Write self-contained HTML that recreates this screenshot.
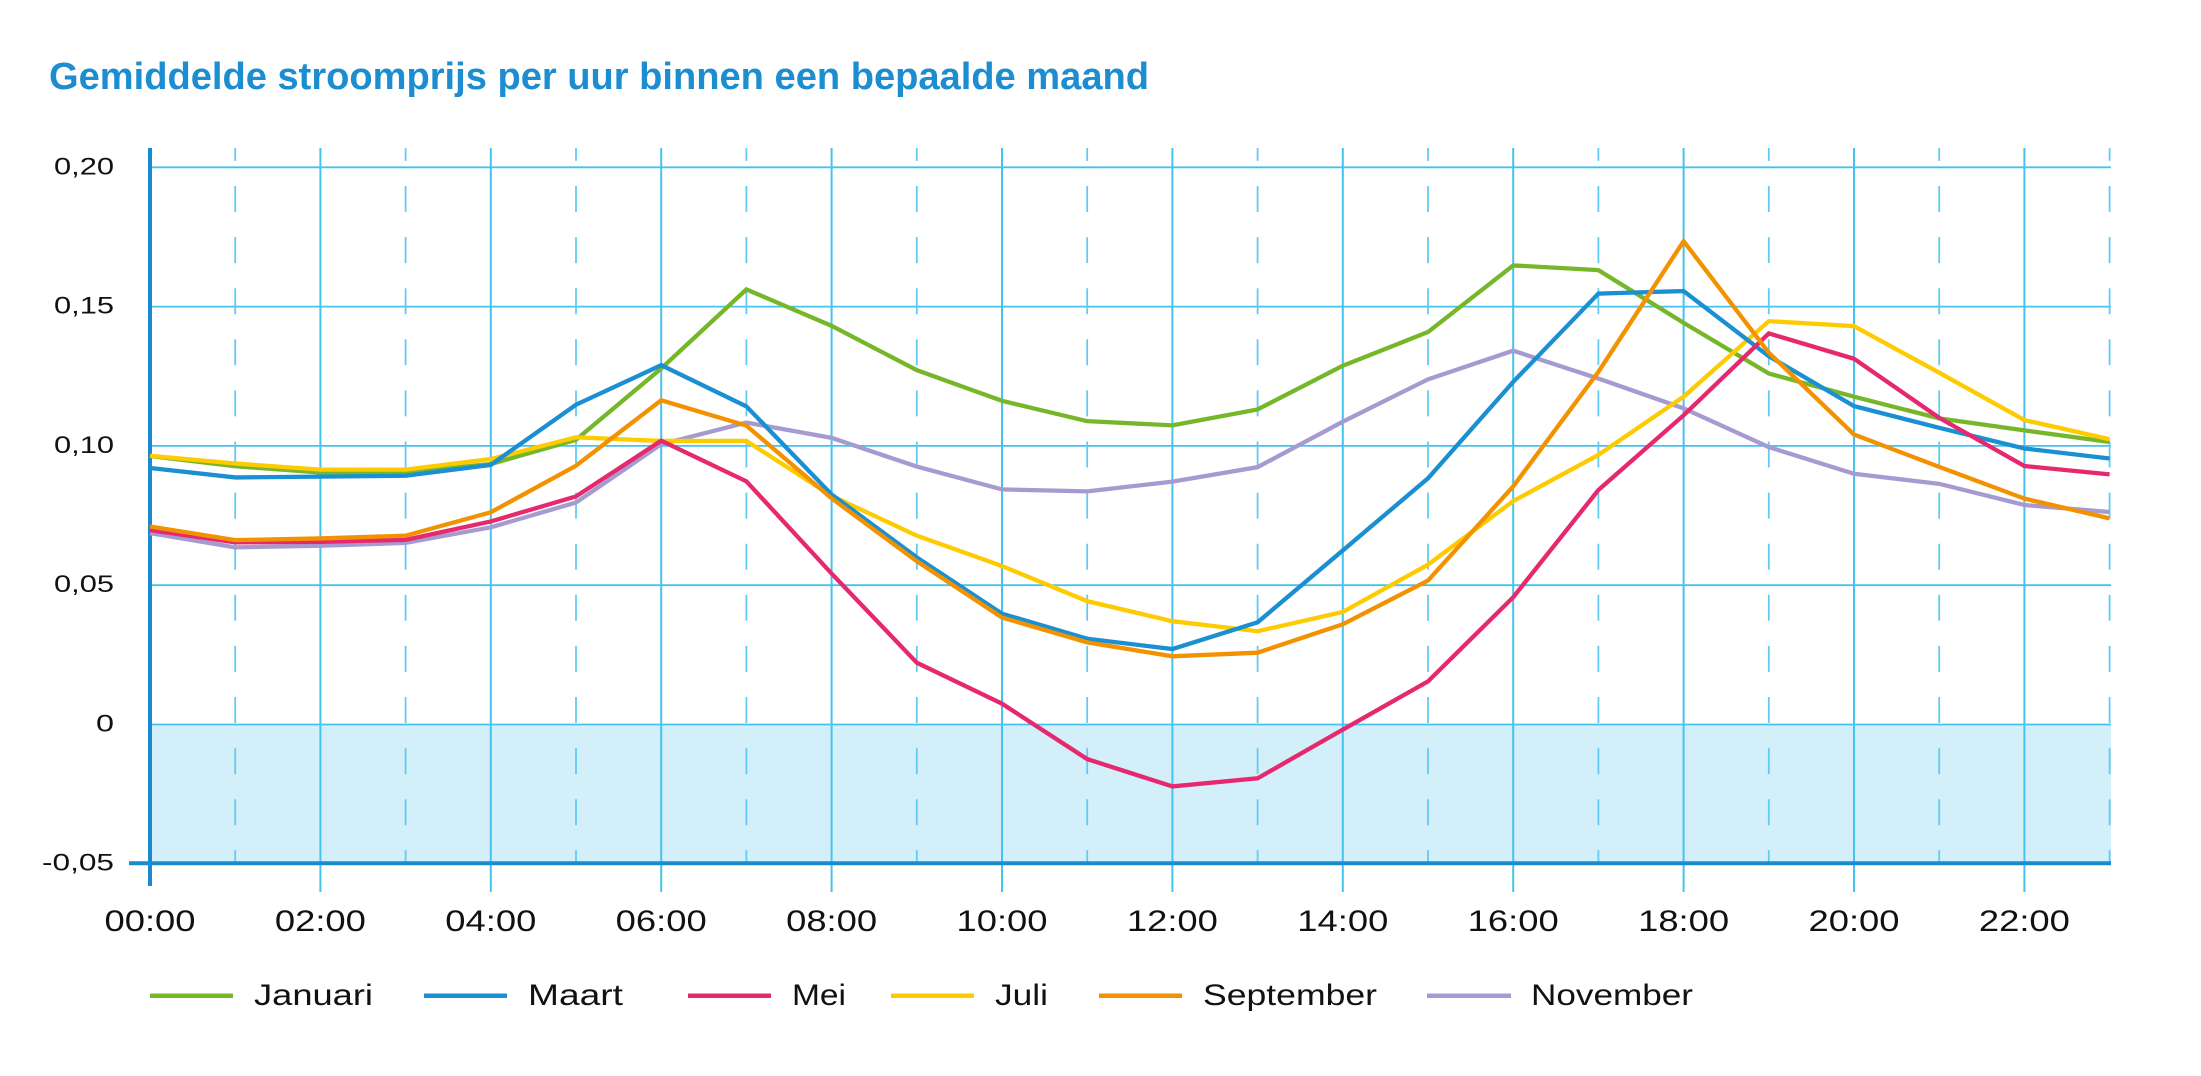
<!DOCTYPE html>
<html>
<head>
<meta charset="utf-8">
<style>
  html, body { margin: 0; padding: 0; background: #ffffff; }
  body { width: 2201px; height: 1076px; overflow: hidden; }
  svg { display: block; }
  text { font-family: "Liberation Sans", "DejaVu Sans", sans-serif; }
</style>
</head>
<body>
<svg width="2201" height="1076" viewBox="0 0 2201 1076" xmlns="http://www.w3.org/2000/svg">
  <rect x="0" y="0" width="2201" height="1076" fill="#ffffff"/>

  <!-- Title -->
  <text x="49" y="89" font-size="38" font-weight="bold" fill="#1b8dd0" textLength="1100" lengthAdjust="spacingAndGlyphs">Gemiddelde stroomprijs per uur binnen een bepaalde maand</text>

  <!-- negative area fill -->
  <rect x="150" y="724" width="1961" height="139" fill="#d3eff9"/>

  <!-- horizontal gridlines -->
  <g stroke="#45c2f1" stroke-width="1.8">
    <line x1="150" y1="167.3" x2="2111" y2="167.3"/>
    <line x1="150" y1="306.6" x2="2111" y2="306.6"/>
    <line x1="150" y1="445.9" x2="2111" y2="445.9"/>
    <line x1="150" y1="585.2" x2="2111" y2="585.2"/>
    <line x1="150" y1="724.5" x2="2111" y2="724.5"/>
  </g>

  <!-- vertical solid gridlines (even hours) -->
  <g stroke="#45c2f1" stroke-width="2">
    <line x1="320.4" y1="148" x2="320.4" y2="892"/>
    <line x1="490.8" y1="148" x2="490.8" y2="892"/>
    <line x1="661.2" y1="148" x2="661.2" y2="892"/>
    <line x1="831.6" y1="148" x2="831.6" y2="892"/>
    <line x1="1002" y1="148" x2="1002" y2="892"/>
    <line x1="1172.4" y1="148" x2="1172.4" y2="892"/>
    <line x1="1342.8" y1="148" x2="1342.8" y2="892"/>
    <line x1="1513.2" y1="148" x2="1513.2" y2="892"/>
    <line x1="1683.6" y1="148" x2="1683.6" y2="892"/>
    <line x1="1854" y1="148" x2="1854" y2="892"/>
    <line x1="2024.4" y1="148" x2="2024.4" y2="892"/>
  </g>

  <!-- vertical dashed gridlines (odd hours) -->
  <g stroke="#62cbf3" stroke-width="1.8" stroke-dasharray="26 25.1" stroke-dashoffset="13.1">
    <line x1="235.2" y1="148" x2="235.2" y2="863"/>
    <line x1="405.6" y1="148" x2="405.6" y2="863"/>
    <line x1="576" y1="148" x2="576" y2="863"/>
    <line x1="746.4" y1="148" x2="746.4" y2="863"/>
    <line x1="916.8" y1="148" x2="916.8" y2="863"/>
    <line x1="1087.2" y1="148" x2="1087.2" y2="863"/>
    <line x1="1257.6" y1="148" x2="1257.6" y2="863"/>
    <line x1="1428" y1="148" x2="1428" y2="863"/>
    <line x1="1598.4" y1="148" x2="1598.4" y2="863"/>
    <line x1="1768.8" y1="148" x2="1768.8" y2="863"/>
    <line x1="1939.2" y1="148" x2="1939.2" y2="863"/>
    <line x1="2109.6" y1="148" x2="2109.6" y2="863"/>
  </g>

  <!-- axes -->
  <line x1="150" y1="148" x2="150" y2="886" stroke="#1a8bcf" stroke-width="4"/>
  <line x1="129" y1="863.3" x2="2111" y2="863.3" stroke="#1a8bcf" stroke-width="4"/>

  <!-- y labels -->
  <g font-size="24" fill="#111111" text-anchor="end">
    <text x="114" y="174.3" textLength="60" lengthAdjust="spacingAndGlyphs">0,20</text>
    <text x="114" y="313.6" textLength="60" lengthAdjust="spacingAndGlyphs">0,15</text>
    <text x="114" y="452.9" textLength="60" lengthAdjust="spacingAndGlyphs">0,10</text>
    <text x="114" y="592.2" textLength="60" lengthAdjust="spacingAndGlyphs">0,05</text>
    <text x="114" y="731.5" textLength="18" lengthAdjust="spacingAndGlyphs">0</text>
    <text x="114" y="870.5" textLength="72" lengthAdjust="spacingAndGlyphs">-0,05</text>
  </g>

  <!-- x labels -->
  <g font-size="30" fill="#111111" text-anchor="middle">
    <text x="150" y="931" textLength="91" lengthAdjust="spacingAndGlyphs">00:00</text>
    <text x="320.4" y="931" textLength="91" lengthAdjust="spacingAndGlyphs">02:00</text>
    <text x="490.8" y="931" textLength="91" lengthAdjust="spacingAndGlyphs">04:00</text>
    <text x="661.2" y="931" textLength="91" lengthAdjust="spacingAndGlyphs">06:00</text>
    <text x="831.6" y="931" textLength="91" lengthAdjust="spacingAndGlyphs">08:00</text>
    <text x="1002" y="931" textLength="91" lengthAdjust="spacingAndGlyphs">10:00</text>
    <text x="1172.4" y="931" textLength="91" lengthAdjust="spacingAndGlyphs">12:00</text>
    <text x="1342.8" y="931" textLength="91" lengthAdjust="spacingAndGlyphs">14:00</text>
    <text x="1513.2" y="931" textLength="91" lengthAdjust="spacingAndGlyphs">16:00</text>
    <text x="1683.6" y="931" textLength="91" lengthAdjust="spacingAndGlyphs">18:00</text>
    <text x="1854" y="931" textLength="91" lengthAdjust="spacingAndGlyphs">20:00</text>
    <text x="2024.4" y="931" textLength="91" lengthAdjust="spacingAndGlyphs">22:00</text>
  </g>

  <!-- data series: x = hour, y = value -->
  <g transform="translate(150,724) scale(85.2,-2786)" fill="none" stroke-width="4.3" stroke-linejoin="miter">
    <!-- November -->
    <polyline vector-effect="non-scaling-stroke" stroke="#a59bd0" points="0,0.0685 1,0.0634 2,0.064 3,0.065 4,0.0706 5,0.0795 6,0.1004 7,0.1082 8,0.1027 9,0.0924 10,0.0842 11,0.0835 12,0.087 13,0.0922 14,0.1085 15,0.1237 16,0.134 17,0.124 18,0.1133 19,0.0994 20,0.0898 21,0.0862 22,0.0786 23,0.0761"/>
    <!-- Januari -->
    <polyline vector-effect="non-scaling-stroke" stroke="#76b72a" points="0,0.0962 1,0.0925 2,0.0903 3,0.0903 4,0.0933 5,0.102 6,0.1276 7,0.156 8,0.1429 9,0.127 10,0.116 11,0.1087 12,0.1072 13,0.1129 14,0.1286 15,0.1407 16,0.1646 17,0.1629 18,0.144 19,0.1258 20,0.1175 21,0.1097 22,0.1054 23,0.1012"/>
    <!-- Juli -->
    <polyline vector-effect="non-scaling-stroke" stroke="#fdcb00" points="0,0.0963 1,0.0935 2,0.0913 3,0.0913 4,0.0951 5,0.1029 6,0.1016 7,0.1016 8,0.0819 9,0.0676 10,0.0567 11,0.0441 12,0.0369 13,0.0333 14,0.0402 15,0.0572 16,0.08 17,0.0966 18,0.1175 19,0.1446 20,0.1428 21,0.1261 22,0.1091 23,0.1022"/>
    <!-- Maart -->
    <polyline vector-effect="non-scaling-stroke" stroke="#1a8fd2" points="0,0.0919 1,0.0885 2,0.0888 3,0.0891 4,0.093 5,0.1146 6,0.1288 7,0.114 8,0.0824 9,0.0598 10,0.0396 11,0.0306 12,0.0269 13,0.0365 14,0.0623 15,0.0882 16,0.1228 17,0.1545 18,0.1554 19,0.132 20,0.1141 21,0.1063 22,0.0989 23,0.0953"/>
    <!-- Mei -->
    <polyline vector-effect="non-scaling-stroke" stroke="#e6296f" points="0,0.0696 1,0.0652 2,0.0654 3,0.0661 4,0.0727 5,0.0817 6,0.1017 7,0.0871 8,0.054 9,0.022 10,0.0073 11,-0.0126 12,-0.0224 13,-0.0195 14,-0.002 15,0.0153 16,0.0455 17,0.084 18,0.1108 19,0.1402 20,0.1311 21,0.1099 22,0.0926 23,0.0896"/>
    <!-- September -->
    <polyline vector-effect="non-scaling-stroke" stroke="#f39200" points="0,0.0709 1,0.066 2,0.0666 3,0.0676 4,0.076 5,0.0927 6,0.1162 7,0.1071 8,0.081 9,0.0584 10,0.0382 11,0.0293 12,0.0243 13,0.0256 14,0.0358 15,0.0515 16,0.0853 17,0.1264 18,0.1733 19,0.1333 20,0.1039 21,0.0923 22,0.0809 23,0.0738"/>
  </g>

  <!-- legend -->
  <g stroke-width="4.5">
    <line x1="150" y1="995.7" x2="233" y2="995.7" stroke="#76b72a"/>
    <line x1="424" y1="995.7" x2="507" y2="995.7" stroke="#1a8fd2"/>
    <line x1="688" y1="995.7" x2="771" y2="995.7" stroke="#e6296f"/>
    <line x1="891" y1="995.7" x2="974" y2="995.7" stroke="#fdcb00"/>
    <line x1="1099" y1="995.7" x2="1182" y2="995.7" stroke="#f39200"/>
    <line x1="1427" y1="995.7" x2="1511" y2="995.7" stroke="#a59bd0"/>
  </g>
  <g font-size="30" fill="#111111">
    <text x="254" y="1005" textLength="119" lengthAdjust="spacingAndGlyphs">Januari</text>
    <text x="528" y="1005" textLength="95" lengthAdjust="spacingAndGlyphs">Maart</text>
    <text x="792" y="1005" textLength="54" lengthAdjust="spacingAndGlyphs">Mei</text>
    <text x="995" y="1005" textLength="53" lengthAdjust="spacingAndGlyphs">Juli</text>
    <text x="1203" y="1005" textLength="174" lengthAdjust="spacingAndGlyphs">September</text>
    <text x="1531" y="1005" textLength="162" lengthAdjust="spacingAndGlyphs">November</text>
  </g>
</svg>
</body>
</html>
